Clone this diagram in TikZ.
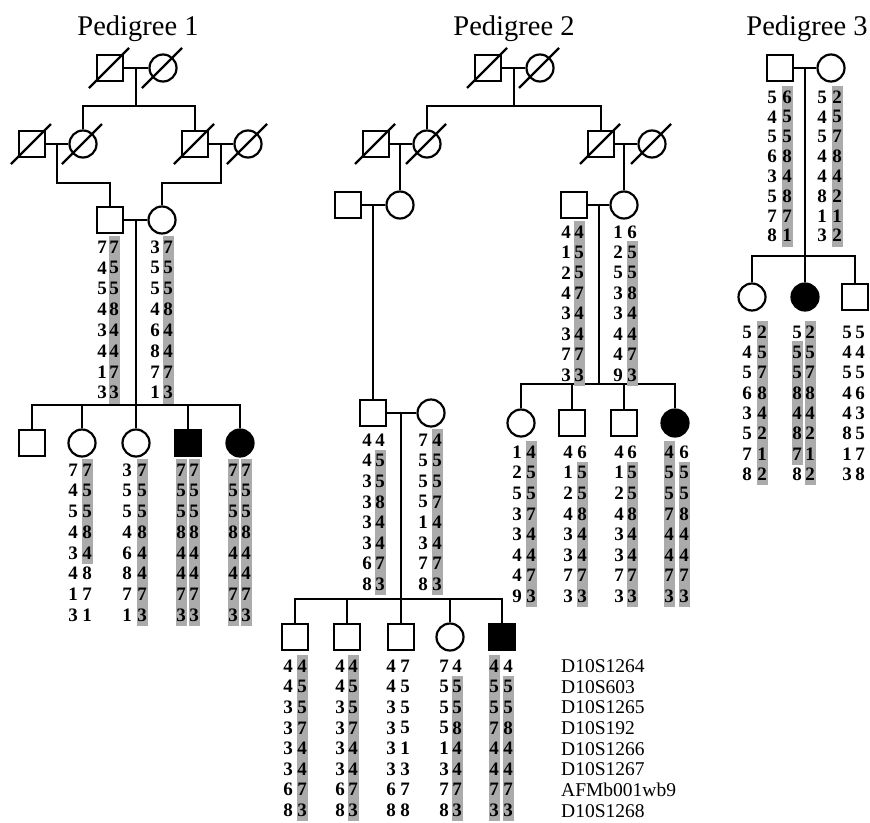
\documentclass[tikz,border=0pt]{standalone}
\usepackage{fontspec}
\setmainfont{Liberation Serif}
\newcommand\hcol[5]{\foreach \dd [count=\ii from 0] in {#5}{\node[dig] (#1-\ii) at (#2,{#3+\ii*#4}) {\dd};}}
\newcommand\hapbar[5]{\fill[hapshade] ({#1-5.5},{#2+#4*#3-11}) rectangle ({#1+5.5},{#2+#5*#3+11});}
\newcommand\dec[1]{\draw[ln] ([shift={(-21,20)}]#1.center) -- ([shift={(19,-20)}]#1.center);}
\begin{document}
\begin{tikzpicture}[x=1pt,y=-1pt,
 ln/.style={line width=2.2pt},
 male/.style={draw, line width=2.2pt, rectangle, minimum size=26pt, inner sep=0pt},
 female/.style={draw, line width=2.2pt, circle, minimum size=27pt, inner sep=0pt},
 aff/.style={fill=black},
 dig/.style={font=\fontsize{19}{19}\selectfont\bfseries, inner sep=0pt},
 hapshade/.style={fill=black!33},
 title/.style={font=\fontsize{28.5}{28.5}\selectfont, anchor=base, inner sep=0pt},
 marker/.style={font=\fontsize{19.5}{19.5}\selectfont, anchor=west, inner sep=0pt}]
\useasboundingbox (0,0) rectangle (870,822);
\fill[white] (0,0) rectangle (870,822);
% titles
\node[title] (t1) at (138,35) {Pedigree 1};
\node[title] (t2) at (514,35) {Pedigree 2};
\node[title] (t3) at (807,35) {Pedigree 3};

% ---------------- Pedigree 1
\node[male] (p1a) at (110,68) {};
\node[female] (p1b) at (163,68) {};
\node[male] (p1c) at (32,144) {};
\node[female] (p1d) at (83,144) {};
\node[male] (p1e) at (195,144) {};
\node[female] (p1f) at (248,144) {};
\node[male] (p1g) at (110,220) {};
\node[female] (p1h) at (162,220) {};
\node[male] (p1k1) at (32,443) {};
\node[female] (p1k2) at (82,443) {};
\node[female] (p1k3) at (136,443) {};
\node[male,aff] (p1k4) at (188,443) {};
\node[female,aff] (p1k5) at (240,443) {};
\dec{p1a}\dec{p1b}\dec{p1c}\dec{p1d}\dec{p1e}\dec{p1f}
\coordinate (p1m1) at (136,68); \coordinate (p1s1) at (136,106);
\draw[ln] (p1a) -- (p1b);
\draw[ln] (p1m1) -- (p1s1);
\draw[ln] (p1d) |- (p1s1) -| (p1e);
\coordinate (p1m2) at (57,144); \coordinate (p1j1) at (57,183);
\draw[ln] (p1c) -- (p1d);
\draw[ln] (p1m2) -- (p1j1) -| (p1g);
\coordinate (p1m3) at (221,144); \coordinate (p1j2) at (221,183);
\draw[ln] (p1e) -- (p1f);
\draw[ln] (p1m3) -- (p1j2) -| (p1h);
\draw[ln] (p1g) -- (p1h);
\coordinate (p1m4) at (136,220); \coordinate (p1s2) at (136,405);
\draw[ln] (p1m4) -- (p1s2);
\draw[ln] (p1k1) |- (p1s2) -| (p1k5);
\foreach \n in {p1k2,p1k3,p1k4} \draw[ln] (\n) -- (\n |- p1s2);
% haplotypes P1 parents
\hapbar{114}{247}{20.8}{0}{7}
\hcol{p1gL}{102}{247}{20.8}{7,4,5,4,3,4,1,3}
\hcol{p1gR}{114}{247}{20.8}{7,5,5,8,4,4,7,3}
\hapbar{168}{247}{20.8}{0}{7}
\hcol{p1hL}{155}{247}{20.8}{3,5,5,4,6,8,7,1}
\hcol{p1hR}{168}{247}{20.8}{7,5,5,8,4,4,7,3}
% P1 children
\hapbar{87}{470}{20.7}{0}{4}
\hcol{p1k2L}{73}{470}{20.7}{7,4,5,4,3,4,1,3}
\hcol{p1k2R}{87}{470}{20.7}{7,5,5,8,4,8,7,1}
\hapbar{142}{470}{20.7}{0}{7}
\hcol{p1k3L}{127}{470}{20.7}{3,5,5,4,6,8,7,1}
\hcol{p1k3R}{142}{470}{20.7}{7,5,5,8,4,4,7,3}
\hapbar{181}{470}{20.7}{0}{7}\hapbar{194}{470}{20.7}{0}{7}
\hcol{p1k4L}{181}{470}{20.7}{7,5,5,8,4,4,7,3}
\hcol{p1k4R}{194}{470}{20.7}{7,5,5,8,4,4,7,3}
\hapbar{233}{470}{20.7}{0}{7}\hapbar{246}{470}{20.7}{0}{7}
\hcol{p1k5L}{233}{470}{20.7}{7,5,5,8,4,4,7,3}
\hcol{p1k5R}{246}{470}{20.7}{7,5,5,8,4,4,7,3}

% ---------------- Pedigree 2
\node[male] (p2a) at (488,68) {};
\node[female] (p2b) at (540,68) {};
\node[male] (p2c) at (376,144) {};
\node[female] (p2d) at (427,144) {};
\node[male] (p2e) at (601,144) {};
\node[female] (p2f) at (652,144) {};
\node[male] (p2g) at (348,205) {};
\node[female] (p2h) at (400,205) {};
\node[male] (p2i) at (574,205) {};
\node[female] (p2j) at (624,205) {};
\node[male] (p2k) at (373,413) {};
\node[female] (p2l) at (431,413) {};
\node[female] (p2r1) at (521,423) {};
\node[male] (p2r2) at (572,423) {};
\node[male] (p2r3) at (624,423) {};
\node[female,aff] (p2r4) at (675,423) {};
\node[male] (p2q1) at (295,637) {};
\node[male] (p2q2) at (347,637) {};
\node[male] (p2q3) at (401,637) {};
\node[female] (p2q4) at (450,637) {};
\node[male,aff] (p2q5) at (502,637) {};
\dec{p2a}\dec{p2b}\dec{p2c}\dec{p2d}\dec{p2e}\dec{p2f}
\draw[ln] (p2a) -- (p2b);
\coordinate (p2m1) at (514,68); \coordinate (p2s1) at (514,106);
\draw[ln] (p2m1) -- (p2s1);
\draw[ln] (p2d) |- (p2s1) -| (p2e);
\draw[ln] (p2c) -- (p2d);
\coordinate (p2m2) at (400,144);
\draw[ln] (p2m2) -- (p2h);
\draw[ln] (p2e) -- (p2f);
\coordinate (p2m3) at (624,144);
\draw[ln] (p2m3) -- (p2j);
\draw[ln] (p2g) -- (p2h);
\coordinate (p2m4) at (373,205);
\draw[ln] (p2m4) -- (p2k);
\draw[ln] (p2i) -- (p2j);
\coordinate (p2m5) at (599,205); \coordinate (p2s5) at (599,384);
\draw[ln] (p2m5) -- (p2s5);
\draw[ln] (p2r1) |- (p2s5) -| (p2r4);
\foreach \n in {p2r2,p2r3} \draw[ln] (\n) -- (\n |- p2s5);
\draw[ln] (p2k) -- (p2l);
\coordinate (p2m6) at (401,413); \coordinate (p2s6) at (401,599);
\draw[ln] (p2m6) -- (p2s6);
\draw[ln] (p2q1) |- (p2s6) -| (p2q5);
\foreach \n in {p2q2,p2q3,p2q4} \draw[ln] (\n) -- (\n |- p2s6);
% haplotypes P2 gen III right
\hapbar{579}{232}{20.4}{0}{7}
\hcol{p2iL}{566}{232}{20.4}{4,1,2,4,3,3,7,3}
\hcol{p2iR}{579}{232}{20.4}{4,5,5,7,4,4,7,3}
\hapbar{632}{232}{20.4}{1}{7}
\hcol{p2jL}{618}{232}{20.4}{1,2,5,3,3,4,4,9}
\hcol{p2jR}{632}{232}{20.4}{6,5,5,8,4,4,7,3}
% P2 gen IV
\hapbar{380}{440}{20.6}{1}{7}
\hcol{p2kL}{367}{440}{20.6}{4,4,3,3,3,3,6,8}
\hcol{p2kR}{380}{440}{20.6}{4,5,5,8,4,4,7,3}
\hapbar{437}{440}{20.6}{0}{7}
\hcol{p2lL}{423}{440}{20.6}{7,5,5,5,1,3,7,8}
\hcol{p2lR}{437}{440}{20.6}{4,5,5,7,4,4,7,3}
% P2 right children
\hapbar{531}{452}{20.6}{0}{7}
\hcol{p2r1L}{517}{452}{20.6}{1,2,5,3,3,4,4,9}
\hcol{p2r1R}{531}{452}{20.6}{4,5,5,7,4,4,7,3}
\hapbar{582}{452}{20.6}{1}{7}
\hcol{p2r2L}{568}{452}{20.6}{4,1,2,4,3,3,7,3}
\hcol{p2r2R}{582}{452}{20.6}{6,5,5,8,4,4,7,3}
\hapbar{632}{452}{20.6}{1}{7}
\hcol{p2r3L}{619}{452}{20.6}{4,1,2,4,3,3,7,3}
\hcol{p2r3R}{632}{452}{20.6}{6,5,5,8,4,4,7,3}
\hapbar{669}{452}{20.6}{0}{7}\hapbar{684}{452}{20.6}{1}{7}
\hcol{p2r4L}{669}{452}{20.6}{4,5,5,7,4,4,7,3}
\hcol{p2r4R}{684}{452}{20.6}{6,5,5,8,4,4,7,3}
% P2 left children
\hapbar{302}{666}{20.6}{0}{7}
\hcol{p2q1L}{288}{666}{20.6}{4,4,3,3,3,3,6,8}
\hcol{p2q1R}{302}{666}{20.6}{4,5,5,7,4,4,7,3}
\hapbar{353}{666}{20.6}{0}{7}
\hcol{p2q2L}{340}{666}{20.6}{4,4,3,3,3,3,6,8}
\hcol{p2q2R}{353}{666}{20.6}{4,5,5,7,4,4,7,3}
\hcol{p2q3L}{391}{666}{20.6}{4,4,3,3,3,3,6,8}
\hcol{p2q3R}{405}{666}{20.6}{7,5,5,5,1,3,7,8}
\hapbar{457}{666}{20.6}{1}{7}
\hcol{p2q4L}{444}{666}{20.6}{7,5,5,5,1,3,7,8}
\hcol{p2q4R}{457}{666}{20.6}{4,5,5,8,4,4,7,3}
\hapbar{494}{666}{20.6}{0}{7}\hapbar{508}{666}{20.6}{1}{7}
\hcol{p2q5L}{494}{666}{20.6}{4,5,5,7,4,4,7,3}
\hcol{p2q5R}{508}{666}{20.6}{4,5,5,8,4,4,7,3}

% ---------------- Pedigree 3
\node[male] (p3a) at (780,68) {};
\node[female] (p3b) at (831,68) {};
\node[female] (p3c1) at (752,297) {};
\node[female,aff] (p3c2) at (805,297) {};
\node[male] (p3c3) at (855,297) {};
\draw[ln] (p3a) -- (p3b);
\coordinate (p3m1) at (805,68); \coordinate (p3s1) at (805,256);
\draw[ln] (p3m1) -- (p3s1);
\draw[ln] (p3c1) |- (p3s1) -| (p3c3);
\draw[ln] (p3c2) -- (p3c2 |- p3s1);
\hapbar{787}{97}{19.8}{0}{7}
\hcol{p3aL}{772}{97}{19.8}{5,4,5,6,3,5,7,8}
\hcol{p3aR}{787}{97}{19.8}{6,5,5,8,4,8,7,1}
\hapbar{837}{97}{19.8}{0}{7}
\hcol{p3bL}{822}{97}{19.8}{5,4,5,4,4,8,1,3}
\hcol{p3bR}{837}{97}{19.8}{2,5,7,8,4,2,1,2}
\hapbar{762}{332}{20.3}{0}{7}
\hcol{p3c1L}{747}{332}{20.3}{5,4,5,6,3,5,7,8}
\hcol{p3c1R}{762}{332}{20.3}{2,5,7,8,4,2,1,2}
\hapbar{797}{332}{20.3}{1}{6}\hapbar{810}{332}{20.3}{0}{7}
\hcol{p3c2L}{797}{332}{20.3}{5,5,5,8,4,8,7,8}
\hcol{p3c2R}{810}{332}{20.3}{2,5,7,8,4,2,1,2}
\hcol{p3c3L}{847}{332}{20.3}{5,4,5,4,4,8,1,3}
\hcol{p3c3R}{860}{332}{20.3}{5,4,5,6,3,5,7,8}

% ---------------- marker legend
\node[marker] (mk1) at (561,666) {D10S1264};
\node[marker] (mk2) at (561,686.7) {D10S603};
\node[marker] (mk3) at (561,707.4) {D10S1265};
\node[marker] (mk4) at (561,728.1) {D10S192};
\node[marker] (mk5) at (561,748.8) {D10S1266};
\node[marker] (mk6) at (561,769.5) {D10S1267};
\node[marker] (mk7) at (561,790.2) {AFMb001wb9};
\node[marker] (mk8) at (561,810.9) {D10S1268};
\end{tikzpicture}
\end{document}
